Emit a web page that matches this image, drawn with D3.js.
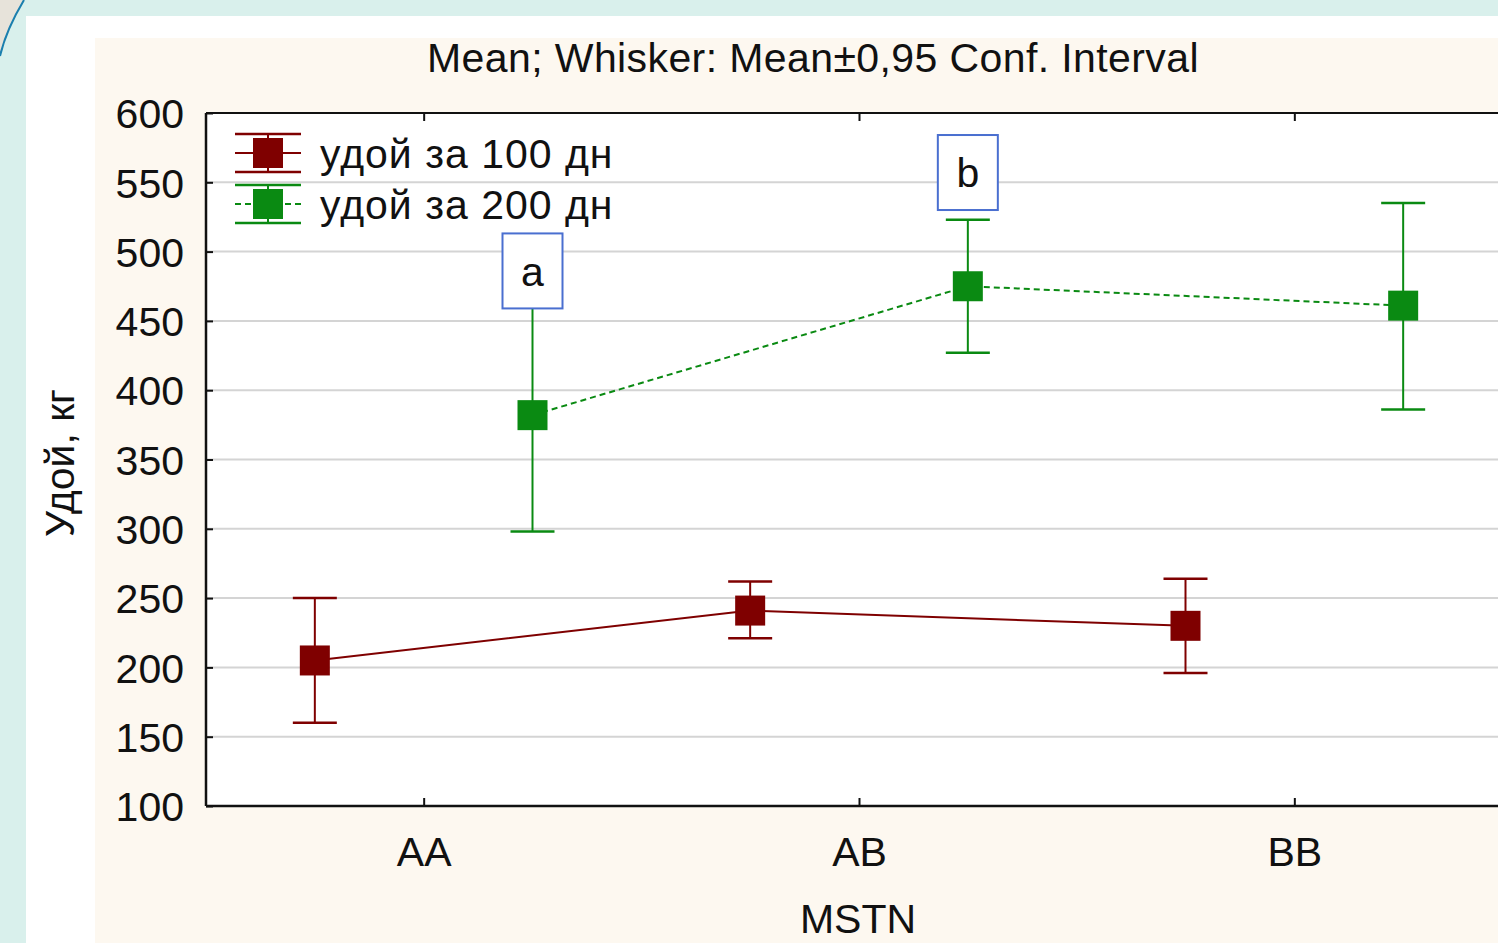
<!DOCTYPE html>
<html><head><meta charset="utf-8">
<script src="https://cdn.jsdelivr.net/npm/d3@7"></script>
<style>
html,body{margin:0;padding:0;background:#d9f0ec;overflow:hidden}
svg{display:block}
text{font-family:"Liberation Sans",Arial,sans-serif;fill:#111}
</style></head>
<body>
<svg id="chart" width="1498" height="943"></svg>
<script>
const categories = ["AA", "AB", "BB"];
const seriesNames = ["удой за 100 дн", "удой за 200 дн"];
const mean100 = [205, 241, 230];
const low100  = [160, 221, 196];
const high100 = [250, 262, 264];
const mean200 = [382, 475, 461];
const low200  = [298, 427, 386];
const high200 = [466, 523, 535];
const yTicks = [100, 150, 200, 250, 300, 350, 400, 450, 500, 550, 600];
const letters = ["a", "b"];
const letterAt = [459, 530];   // value at bottom edge of each letter box

const svg = d3.select("#chart");
const W = 1498, H = 943;
const FS = 41;

// slide background decoration
svg.append("rect").attr("width", W).attr("height", H).attr("fill", "#d9f0ec");
svg.append("path").attr("d", "M0,0 L24,0 Q6,30 0,56 Z").attr("fill", "#e7e3da");
svg.append("path").attr("d", "M24,0 Q6,30 0,56").attr("fill", "none").attr("stroke", "#1b7fae").attr("stroke-width", 2);
// white panel
svg.append("rect").attr("x", 26).attr("y", 16).attr("width", W - 26).attr("height", H - 16).attr("fill", "#ffffff");
// beige chart background
svg.append("rect").attr("x", 95).attr("y", 38).attr("width", W - 95).attr("height", H - 38).attr("fill", "#fdf8f0");

const L = 206, T = 113, B = 806, R = 1512;
const x = d3.scalePoint().domain(categories).range([L, R]).padding(0.5);
const y = d3.scaleLinear().domain([100, 600]).range([B, T]);
const step = x.step();
const off = step / 4;

// plot area
svg.append("rect").attr("x", L).attr("y", T).attr("width", R - L).attr("height", B - T).attr("fill", "#ffffff");

// gridlines
svg.append("g").selectAll("line").data(yTicks.slice(1, -1)).join("line")
  .attr("x1", L).attr("x2", R).attr("y1", d => y(d)).attr("y2", d => y(d))
  .attr("stroke", "#d4d4d4").attr("stroke-width", 2);

// axes
const yAxis = svg.append("g").attr("transform", `translate(${L},0)`)
  .call(d3.axisLeft(y).tickValues(yTicks).tickSize(-7).tickPadding(22).tickFormat(d3.format("d")));
yAxis.select(".domain").remove();
yAxis.selectAll(".tick line").attr("stroke", "#111").attr("stroke-width", 2);
yAxis.selectAll(".tick text").attr("font-size", FS).attr("fill", "#111").attr("dy", "0.36em");

const xAxis = svg.append("g").attr("transform", `translate(0,${B})`)
  .call(d3.axisBottom(x).tickSize(-8).tickPadding(31));
xAxis.select(".domain").remove();
xAxis.selectAll(".tick line").attr("stroke", "#111").attr("stroke-width", 2);
xAxis.selectAll(".tick text").attr("font-size", FS).attr("fill", "#111").attr("dy", "0.71em");

const xTop = svg.append("g").attr("transform", `translate(0,${T})`)
  .call(d3.axisTop(x).tickSize(-8).tickFormat(""));
xTop.select(".domain").remove();
xTop.selectAll(".tick line").attr("stroke", "#111").attr("stroke-width", 2);

// frame lines
svg.append("line").attr("x1", L).attr("x2", R).attr("y1", T).attr("y2", T).attr("stroke", "#111").attr("stroke-width", 2);
svg.append("line").attr("x1", L).attr("x2", R).attr("y1", B).attr("y2", B).attr("stroke", "#111").attr("stroke-width", 2.5);
svg.append("line").attr("x1", L).attr("x2", L).attr("y1", T).attr("y2", B).attr("stroke", "#111").attr("stroke-width", 2.5);

// title & axis labels
svg.append("text").attr("x", 813).attr("y", 72).attr("text-anchor", "middle").attr("font-size", FS).attr("letter-spacing", 0.4).text("Mean; Whisker: Mean±0,95 Conf. Interval");
svg.append("text").attr("x", 858).attr("y", 933).attr("text-anchor", "middle").attr("font-size", FS).text("MSTN");
svg.append("text").attr("transform", "translate(74,463) rotate(-90)").attr("text-anchor", "middle").attr("font-size", FS).text("Удой, кг");

const series = [
  {name: seriesNames[0], mean: mean100, lo: low100, hi: high100, color: "#7f0000", dash: null, dx: -off},
  {name: seriesNames[1], mean: mean200, lo: low200, hi: high200, color: "#0a8a12", dash: "6,4", dx: off}
];
const cap = 22, half = 15;

series.forEach(s => {
  const g = svg.append("g");
  const pts = categories.map((c, i) => [x(c) + s.dx, y(s.mean[i])]);
  g.append("path").attr("d", d3.line()(pts)).attr("fill", "none").attr("stroke", s.color)
    .attr("stroke-width", 2).attr("stroke-dasharray", s.dash);
  categories.forEach((c, i) => {
    const cx = x(c) + s.dx;
    g.append("line").attr("x1", cx).attr("x2", cx).attr("y1", y(s.lo[i])).attr("y2", y(s.hi[i])).attr("stroke", s.color).attr("stroke-width", 2);
    [s.lo[i], s.hi[i]].forEach(v => g.append("line").attr("x1", cx - cap).attr("x2", cx + cap).attr("y1", y(v)).attr("y2", y(v)).attr("stroke", s.color).attr("stroke-width", 2.5));
    g.append("rect").attr("x", cx - half).attr("y", y(s.mean[i]) - half).attr("width", 2 * half).attr("height", 2 * half).attr("fill", s.color);
  });
});

// significance letter boxes (above green whiskers)
const letterG = svg.append("g");
letters.forEach((t, i) => {
  const cx = x(categories[i]) + off;
  const bottom = y(letterAt[i]);
  const bw = 60, bh = 75;
  letterG.append("rect").attr("x", cx - bw / 2).attr("y", bottom - bh).attr("width", bw).attr("height", bh)
    .attr("fill", "#fff").attr("stroke", "#4a6fd0").attr("stroke-width", 2);
  letterG.append("text").attr("x", cx).attr("y", bottom - bh / 2).attr("dy", "0.36em").attr("text-anchor", "middle").attr("font-size", FS).text(t);
});

// legend
const leg = svg.append("g");
series.forEach((s, i) => {
  const cy = 153 + i * 51, lx = 268;
  leg.append("line").attr("x1", lx - 33).attr("x2", lx + 33).attr("y1", cy - 19).attr("y2", cy - 19).attr("stroke", s.color).attr("stroke-width", 2.5);
  leg.append("line").attr("x1", lx - 33).attr("x2", lx + 33).attr("y1", cy + 19).attr("y2", cy + 19).attr("stroke", s.color).attr("stroke-width", 2.5);
  leg.append("line").attr("x1", lx - 33).attr("x2", lx + 33).attr("y1", cy).attr("y2", cy).attr("stroke", s.color).attr("stroke-width", 2).attr("stroke-dasharray", s.dash);
  leg.append("line").attr("x1", lx).attr("x2", lx).attr("y1", cy - 19).attr("y2", cy + 19).attr("stroke", s.color).attr("stroke-width", 2);
  leg.append("rect").attr("x", lx - 15).attr("y", cy - 15).attr("width", 30).attr("height", 30).attr("fill", s.color);
  leg.append("text").attr("x", 320).attr("y", cy).attr("dy", "0.36em").attr("font-size", FS).attr("letter-spacing", 1).text(s.name);
});
</script>
</body></html>
